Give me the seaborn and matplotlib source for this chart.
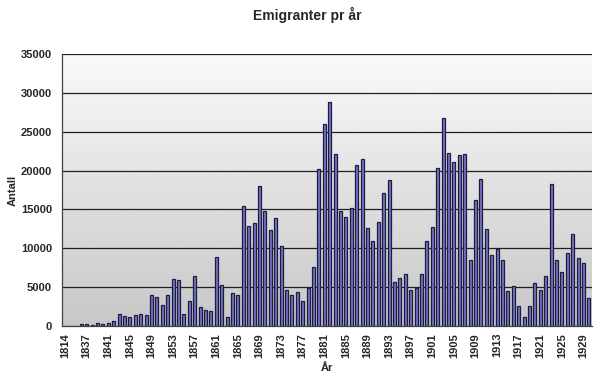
import numpy as np
import pandas as pd
import matplotlib
matplotlib.use("Agg")
import matplotlib.pyplot as plt
import seaborn as sns

# --------------------------------------------------
# Data
# --------------------------------------------------

years = ["1814", "1825", "1835", "1836"] + [str(y) for y in range(1837, 1931)]

early = [0, 50, 0, 200]
y1837_1850 = [200, 100, 400, 300, 450, 650, 1600, 1250, 1150, 1400, 1600, 1450, 4050, 3700]
y1851_1865 = [2650, 4050, 6050, 5950, 1600, 3200, 6400, 2500, 2000, 1900, 8900, 5250, 1100, 4300, 4000]
y1866_1880 = [15450, 12850, 13200, 18050, 14850, 12300, 13850, 10350, 4600, 4050, 4350, 3200, 4850, 7600, 20200]
y1881_1895 = [25950, 28800, 22150, 14800, 14000, 15150, 20750, 21450, 12650, 11000, 13350, 17050, 18800, 5650, 6200]
y1896_1910 = [6700, 4650, 4850, 6700, 10950, 12750, 20350, 26800, 22250, 21050, 21950, 22150, 8500, 16150, 18900]
y1911_1930 = [12500, 9100, 9900, 8500, 4550, 5200, 2550, 1200, 2600, 5600, 4600, 6450, 18300, 8500, 7000,
              9350, 11900, 8800, 8050, 3650]

values = early + y1837_1850 + y1851_1865 + y1866_1880 + y1881_1895 + y1896_1910 + y1911_1930

df = pd.DataFrame({"Year": years, "Antall": values})

# --------------------------------------------------
# Plot
# --------------------------------------------------

sns.set_style("white")
plt.rcParams["font.family"] = ["Liberation Sans", "DejaVu Sans"]

fig = plt.figure(figsize=(6, 3.8), dpi=100)
ax = fig.add_axes([0.104, 0.142, 0.882, 0.716])

# gray gradient plot area, light at top
grad = np.linspace(0.98, 0.78, 256).reshape(-1, 1)
ax.imshow(grad, cmap="gray", vmin=0, vmax=1, aspect="auto",
          extent=[0, 1, 0, 1], transform=ax.transAxes, zorder=0)

sns.barplot(data=df, x="Year", y="Antall", order=years,
            color="#7474c4", edgecolor="#1c1c40", linewidth=0.9,
            width=0.58, saturation=1, ax=ax, zorder=3)

ax.set_xlim(-0.5, len(years) - 0.5)
ax.set_ylim(0, 35000)
ax.set_yticks(range(0, 35001, 5000))
for y in range(5000, 35001, 5000):
    ax.axhline(y, color="#202020", linewidth=0.9, zorder=2)

ax.set_xticks(range(len(years)))
ax.set_xticklabels([lab if i % 4 == 0 else "" for i, lab in enumerate(years)],
                   rotation=90, fontsize=8, fontweight="bold")
ax.tick_params(axis="x", length=3, width=0.8, color="#404040", pad=2)
ax.tick_params(axis="y", length=4, width=0.8, color="#404040", labelsize=8)
for lab in ax.get_yticklabels():
    lab.set_fontweight("bold")

for side in ["top", "right"]:
    ax.spines[side].set_visible(False)
for side in ["left", "bottom"]:
    ax.spines[side].set_color("#404040")
    ax.spines[side].set_linewidth(0.9)
    ax.spines[side].set_zorder(5)

ax.set_xlabel("År", fontsize=8, fontweight="bold", labelpad=4)
ax.set_ylabel("Antall", fontsize=8, fontweight="bold")
ax.yaxis.set_label_coords(-0.085, 0.5)
fig.text(0.512, 0.96, "Emigranter pr år", ha="center", va="center",
         fontsize=10, fontweight="bold")

fig.savefig("out.png", dpi=100)
